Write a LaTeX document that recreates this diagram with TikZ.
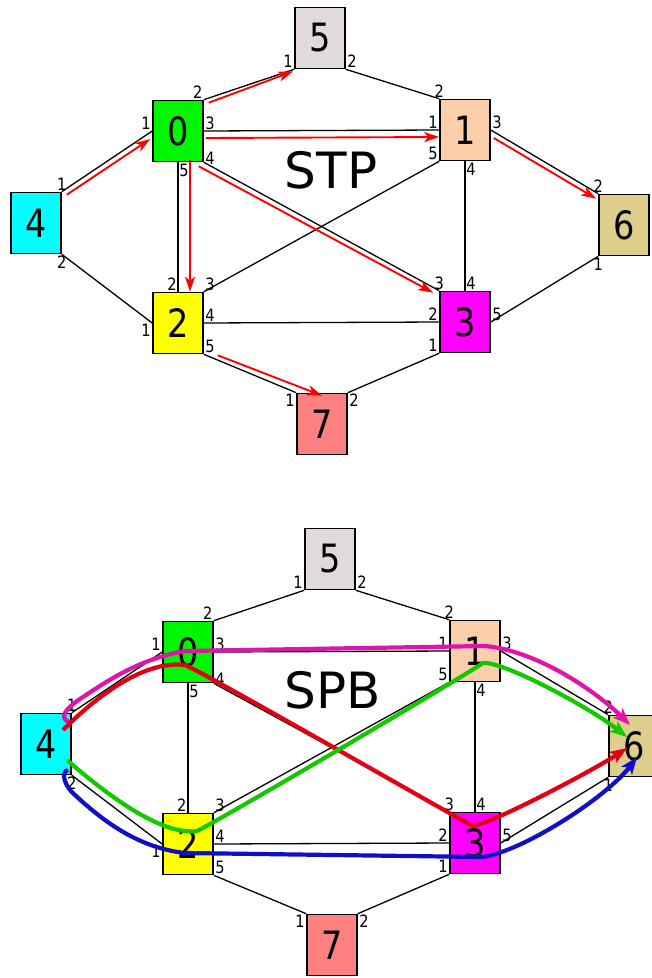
\documentclass[tikz,border=0pt]{standalone}
\usepackage{fontspec}
\setmainfont{DejaVu Sans}
\newfontfamily\narrowfont[FakeStretch=0.86]{DejaVu Sans}
\usetikzlibrary{arrows.meta}

\definecolor{sw0}{RGB}{0,245,0}
\definecolor{sw1}{RGB}{252,206,170}
\definecolor{sw2}{RGB}{255,255,0}
\definecolor{sw3}{RGB}{255,0,255}
\definecolor{sw4}{RGB}{0,255,255}
\definecolor{sw5}{RGB}{224,218,218}
\definecolor{sw6}{RGB}{222,206,140}
\definecolor{sw7}{RGB}{255,128,128}
\definecolor{spbmag}{RGB}{222,20,172}
\definecolor{spbred}{RGB}{225,0,20}
\definecolor{spbgreen}{RGB}{20,200,0}
\definecolor{spbblue}{RGB}{15,15,200}

\begin{document}
\begin{tikzpicture}[x=1pt,y=-1pt,
    box/.style={draw,line width=1.6pt,minimum width=50pt,minimum height=61pt,inner sep=0pt,font=\narrowfont\fontsize{39}{39}\selectfont},
    link/.style={line width=1.3pt},
    port/.style={font=\narrowfont\fontsize{17}{17}\selectfont,inner sep=0.8pt},
    tree/.style={red,line width=1.9pt,-{Stealth[length=15pt,width=10pt,inset=4pt]}},
    route/.style={line width=4.2pt,-{Stealth[length=17pt,width=13pt,inset=4pt]}}]
\useasboundingbox (0,0) rectangle (652,978);

\foreach \n/\dx/\dy in {stp/0/0,spb/10/521}{
\begin{scope}[shift={(\dx,\dy)}]
    \node[box,fill=sw4] (\n-4) at (36,223) {4};
    \node[box,fill=sw0] (\n-0) at (178,131) {0};
    \node[box,fill=sw5] (\n-5) at (320,38) {5};
    \node[box,fill=sw1] (\n-1) at (465,130) {1};
    \node[box,fill=sw6] (\n-6) at (624,225) {6};
    \node[box,fill=sw2] (\n-2) at (178,323) {2};
    \node[box,fill=sw3] (\n-3) at (465,322) {3};
    \node[box,fill=sw7] (\n-7) at (322,424) {7};
\end{scope}

    \draw[link] (\n-4.north east) -- node[port,at start,anchor=south]{1} node[port,at end,anchor=south east]{1} (\n-0.west);
    \draw[link] (\n-4.south east) -- node[port,at start,anchor=north]{2} node[port,at end,anchor=north east]{1} (\n-2.west);
    \draw[link] (\n-0.north east) -- node[port,at start,anchor=south east]{2} node[port,at end,anchor=south east]{1} (\n-5.south west);
    \draw[link] (\n-5.south east) -- node[port,at start,anchor=south west]{2} node[port,at end,anchor=south]{2} (\n-1.north west);
    \draw[link] (\n-0.east) -- node[port,at start,anchor=south west]{3} node[port,at end,anchor=south east]{1} (\n-1.west);
    \draw[link] (\n-0.south east) -- node[port,at start,anchor=south west,yshift=-4pt]{4} node[port,at end,anchor=south]{3} (\n-3.north west);
    \draw[link] (\n-0.south) -- node[port,at start,anchor=north west]{5} node[port,at end,anchor=south east]{2} (\n-2.north);
    \draw[link] (\n-1.south west) -- node[port,at start,anchor=south east]{5} node[port,at end,anchor=south west]{3} (\n-2.north east);
    \draw[link] (\n-1.south) -- node[port,at start,anchor=north west]{4} node[port,at end,anchor=south west]{4} (\n-3.north);
    \draw[link] (\n-1.east) -- node[port,at start,anchor=south west]{3} node[port,at end,anchor=south]{2} (\n-6.north west);
    \draw[link] (\n-6.south west) -- node[port,at start,anchor=north]{1} node[port,at end,anchor=south west]{5} (\n-3.east);
    \draw[link] (\n-2.east) -- node[port,at start,anchor=south west]{4} node[port,at end,anchor=south east]{2} (\n-3.west);
    \draw[link] (\n-2.south east) -- node[port,at start,anchor=south west]{5} node[port,at end,anchor=north east]{1} (\n-7.north west);
    \draw[link] (\n-3.south west) -- node[port,at start,anchor=south east]{1} node[port,at end,anchor=north west]{2} (\n-7.north east);
}

    \node[font=\fontsize{50}{50}\selectfont] (stp-name) at (331,170) {STP};
    \node[font=\fontsize{50}{50}\selectfont] (spb-name) at (333,690) {SPB};

    \draw[tree] ([shift={(5,3)}]stp-4.north east) -- ([shift={(-2,8)}]stp-0.west);
    \draw[tree] ([shift={(5,3)}]stp-0.north east) -- ([shift={(-1,2)}]stp-5.south west);
    \draw[tree] ([shift={(2,7)}]stp-0.east) -- ([shift={(0,7)}]stp-1.west);
    \draw[tree] ([shift={(12,-2)}]stp-0.south) -- ([shift={(12,0)}]stp-2.north);
    \draw[tree] ([shift={(-5,4)}]stp-0.south east) -- ([shift={(-6,2)}]stp-3.north west);
    \draw[tree] ([shift={(3,8)}]stp-1.east) -- ([shift={(-2,5)}]stp-6.north west);
    \draw[tree] ([shift={(14,1)}]stp-2.south east) -- ([shift={(26,3)}]stp-7.north west);

    \draw[route,spbmag] ([shift={(23,-22)}]spb-4.center) .. controls +(-10,-4) and +(-15,10) .. ([shift={(34,-45)}]spb-4.center)
        .. controls +(30,-20) and +(-45,8) .. ([shift={(-3,-1)}]spb-0.center) -- ([shift={(10,-5)}]spb-1.center)
        .. controls +(55,5) and +(-30,-30) .. ([shift={(-4,-21)}]spb-6.center);
    \draw[route,spbred] ([shift={(17,-14)}]spb-4.center) .. controls +(35,-35) and +(-40,-5) .. ([shift={(-3,13)}]spb-0.center)
        .. controls +(20,8) and +(-20,-10) .. ([shift={(-2,-17)}]spb-3.center)
        .. controls +(25,-5) and +(-30,20) .. ([shift={(-7,2)}]spb-6.center);
    \draw[route,spbgreen] ([shift={(21,16)}]spb-4.center) .. controls +(40,35) and +(-35,5) .. ([shift={(9,-13)}]spb-2.center)
        .. controls +(30,-15) and +(-25,17) .. ([shift={(8,12)}]spb-1.center)
        .. controls +(20,-2) and +(-38,-30) .. ([shift={(-7,-9)}]spb-6.center);
    \draw[route,spbblue] ([shift={(22,26)}]spb-4.center) .. controls +(-8,2) and +(-10,-8) .. ([shift={(29,51)}]spb-4.center)
        .. controls +(30,28) and +(-45,-5) .. ([shift={(-3,9)}]spb-2.center) -- ([shift={(7,14)}]spb-3.center)
        .. controls +(40,-5) and +(-30,40) .. ([shift={(3,11)}]spb-6.center);
\end{tikzpicture}
\end{document}
